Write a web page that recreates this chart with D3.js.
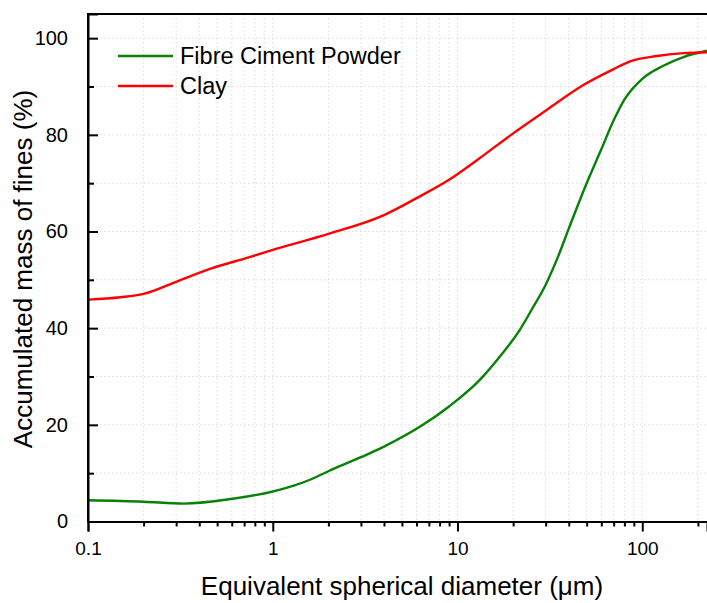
<!DOCTYPE html>
<html><head><meta charset="utf-8">
<script src="https://cdn.jsdelivr.net/npm/d3@7"></script>
<style>body{margin:0;background:#fff}svg{display:block;font-family:"Liberation Sans",Arial,sans-serif}</style>
</head><body><svg id="c" width="707" height="603"></svg>
<script>
const seriesNames = ["Fibre Ciment Powder", "Clay"];
const seriesColors = ["#078207", "#ff0000"];
const fcpX = [0.1,0.2,0.33,0.58,1.0,1.3,1.65,2.0,3.0,4.0,6.5,9.0,13.2,17,21.7,25,30,35,40,50,60,70,80,100,130,167,224];
const fcpY = [4.4,4.1,3.7,4.6,6.2,7.4,8.9,10.4,13.3,15.5,20.0,23.8,29.3,34.2,39.6,43.6,49.0,54.8,60.6,70.0,77.0,83.0,87.3,91.6,94.3,96.1,97.4];
const clayX = [0.1,0.15,0.2,0.3,0.47,0.75,1.0,2.0,4.0,6.0,9.0,13,20,30,48,70,86,120,167,224];
const clayY = [45.9,46.4,47.1,49.6,52.4,54.7,56.2,59.5,63.4,66.9,70.7,75.0,80.3,85.0,90.3,93.6,95.2,96.3,96.9,97.1];
const xMajorTicks = [0.1,1,10,100];
const xTickLabels = ["0.1","1","10","100"];
const xMinorTicks = [0.2,0.3,0.4,0.5,0.6,0.7,0.8,0.9,2,3,4,5,6,7,8,9,20,30,40,50,60,70,80,90,200];
const yMajorTicks = [0,20,40,60,80,100];
const yMinorTicks = [10,30,50,70,90];
const xTitle = "Equivalent spherical diameter (\u03bcm)";
const yTitle = "Accumulated mass of fines (%)";

const L=88, R=707, T=14, B=521.5;
const svg=d3.select("#c");
const x=d3.scaleLog().domain([0.1,224]).range([L,R]);
const y=d3.scaleLinear().domain([0,105]).range([B,T]);

// grid
const g=svg.append("g");
[...xMajorTicks,...xMinorTicks].forEach(v=>{
  g.append("line").attr("x1",x(v)).attr("x2",x(v)).attr("y1",T).attr("y2",B)
   .attr("stroke","#dcdcdc").attr("stroke-width",1).attr("stroke-dasharray","1.5,2.5");
});
[...yMajorTicks,...yMinorTicks].filter(v=>v>0).forEach(v=>{
  g.append("line").attr("x1",L).attr("x2",R).attr("y1",y(v)).attr("y2",y(v))
   .attr("stroke","#dcdcdc").attr("stroke-width",1).attr("stroke-dasharray","1.5,2.5");
});

// clip + lines
svg.append("clipPath").attr("id","clip").append("rect").attr("x",L).attr("y",T).attr("width",R-L).attr("height",B-T);
const line=d3.line().x(d=>x(d[0])).y(d=>y(d[1])).curve(d3.curveMonotoneX);
const data=[d3.zip(fcpX,fcpY), d3.zip(clayX,clayY)];
data.forEach((d,i)=>{
  svg.append("path").attr("clip-path","url(#clip)").attr("d",line(d)).attr("fill","none")
   .attr("stroke",seriesColors[i]).attr("stroke-width",2.4);
});

// axes
const xAxis=svg.append("g").attr("transform",`translate(0,${B})`)
  .call(d3.axisBottom(x).tickValues(xMajorTicks).tickFormat((d,i)=>xTickLabels[i]).tickSize(10).tickPadding(10));
svg.append("g").attr("transform",`translate(0,${B})`)
  .call(d3.axisBottom(x).tickValues(xMinorTicks).tickFormat("").tickSize(5)).call(a=>a.select(".domain").remove());
xAxis.selectAll("text").attr("font-size",19).attr("font-family","Liberation Sans, Arial, sans-serif").attr("fill","#000");
const yAxis=svg.append("g").attr("transform",`translate(${L},0)`)
  .call(d3.axisLeft(y).tickValues(yMajorTicks).tickSize(-10).tickPadding(20));
svg.append("g").attr("transform",`translate(${L},0)`)
  .call(d3.axisLeft(y).tickValues(yMinorTicks).tickFormat("").tickSize(-6)).call(a=>a.select(".domain").remove());
yAxis.selectAll("text").attr("font-size",20).attr("font-family","Liberation Sans, Arial, sans-serif").attr("fill","#000");
svg.selectAll(".domain").attr("stroke","#000").attr("stroke-width",2);
svg.selectAll(".tick line").attr("stroke","#000").attr("stroke-width",2);
svg.append("line").attr("x1",L).attr("x2",R).attr("y1",T).attr("y2",T).attr("stroke","#000").attr("stroke-width",2);
svg.append("line").attr("x1",L).attr("x2",L).attr("y1",T-1).attr("y2",B).attr("stroke","#000").attr("stroke-width",2);

// titles
svg.append("text").attr("x",402).attr("y",595).attr("text-anchor","middle").attr("font-size",26).text(xTitle);
svg.append("text").attr("transform","translate(32,269) rotate(-90)").attr("text-anchor","middle").attr("font-size",26).text(yTitle);

// legend
const leg=svg.append("g");
seriesNames.forEach((n,i)=>{
  const yy=56+i*30;
  leg.append("line").attr("x1",118).attr("x2",173).attr("y1",yy).attr("y2",yy).attr("stroke",seriesColors[i]).attr("stroke-width",2.4);
  leg.append("text").attr("x",180).attr("y",yy).attr("dy","0.35em").attr("font-size",23.5).text(n);
});
</script></body></html>
